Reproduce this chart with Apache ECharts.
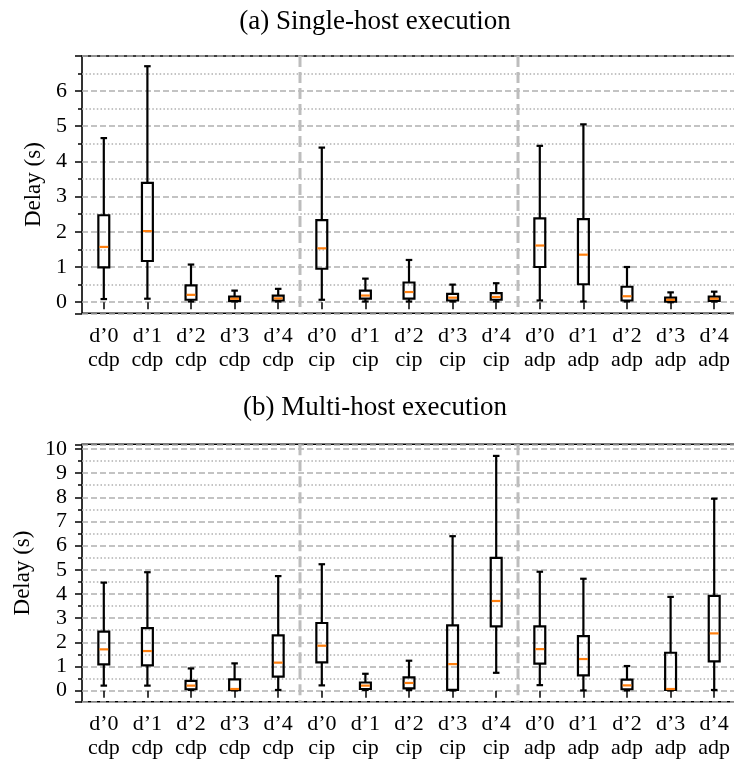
<!DOCTYPE html>
<html>
<head>
<meta charset="utf-8">
<script src="https://cdn.jsdelivr.net/npm/echarts@6/dist/echarts.min.js"></script>
<style>
html,body{margin:0;padding:0;background:#fff;overflow:hidden;}
#chart{width:734px;height:765px;}
</style>
</head>
<body>
<div id="chart"></div>
<script>
// ---- data ----
const delayNames = ['d’0', 'd’1', 'd’2', 'd’3', 'd’4'];
const protocols = ['cdp', 'cip', 'adp'];

// (a) Single-host execution
const singleMin = [0.09, 0.10, 0.02, 0.02, 0.02, 0.07, 0.02, 0.02, 0.02, 0.02, 0.05, 0.02, 0.02, 0.00, 0.02];
const singleQ1  = [0.99, 1.17, 0.07, 0.04, 0.05, 0.95, 0.10, 0.10, 0.05, 0.07, 1.00, 0.51, 0.05, 0.02, 0.04];
const singleMed = [1.57, 2.02, 0.21, 0.10, 0.11, 1.53, 0.19, 0.29, 0.13, 0.15, 1.61, 1.35, 0.17, 0.07, 0.10];
const singleQ3  = [2.47, 3.39, 0.48, 0.16, 0.19, 2.33, 0.33, 0.56, 0.24, 0.26, 2.38, 2.36, 0.44, 0.13, 0.16];
const singleMax = [4.66, 6.70, 1.07, 0.33, 0.38, 4.39, 0.67, 1.20, 0.50, 0.54, 4.44, 5.05, 1.00, 0.28, 0.30];

// (b) Multi-host execution
const multiMin = [0.21, 0.21, 0.03, 0.01, 0.03, 0.22, 0.03, 0.03, 0.01, 0.74, 0.23, 0.01, 0.01, 0.01, 0.03];
const multiQ1  = [1.09, 1.05, 0.06, 0.03, 0.58, 1.17, 0.07, 0.10, 0.03, 2.66, 1.12, 0.63, 0.06, 0.03, 1.21];
const multiMed = [1.71, 1.64, 0.21, 0.07, 1.16, 1.86, 0.21, 0.32, 1.10, 3.71, 1.72, 1.31, 0.22, 0.07, 2.37];
const multiQ3  = [2.44, 2.59, 0.41, 0.47, 2.29, 2.80, 0.34, 0.55, 2.70, 5.49, 2.66, 2.26, 0.46, 1.57, 3.92];
const multiMax = [4.47, 4.90, 0.92, 1.13, 4.74, 5.23, 0.70, 1.24, 6.39, 9.71, 4.92, 4.63, 1.02, 3.88, 7.94];

const titles = ['(a) Single-host execution', '(b) Multi-host execution'];
const yLabel = 'Delay (s)';

// ---- build ----
const categories = [];
protocols.forEach(p => delayNames.forEach(d => categories.push(d + '\n' + p)));
const groupEnds = protocols.slice(0, -1).map((p, k) => (k + 1) * delayNames.length - 1);

function boxData(mn, q1, md, q3, mx) {
  return mn.map((v, i) => [i, mn[i], q1[i], md[i], q3[i], mx[i]]);
}

const FONT = '"Liberation Serif", "Times New Roman", serif';

function renderBox(params, api) {
  const i = api.value(0);
  const pMin = api.coord([i, api.value(1)]);
  const pQ1 = api.coord([i, api.value(2)]);
  const pMed = api.coord([i, api.value(3)]);
  const pQ3 = api.coord([i, api.value(4)]);
  const pMax = api.coord([i, api.value(5)]);
  const band = api.size([1, 0])[0];
  const bw = band * 0.25;
  const cw = band * 0.15;
  const x = pMin[0];
  const ls = { stroke: '#000', lineWidth: 2.2, fill: null };
  return {
    type: 'group',
    children: [
      { type: 'line', shape: { x1: x, y1: pQ1[1], x2: x, y2: pMin[1] }, style: ls },
      { type: 'line', shape: { x1: x, y1: pQ3[1], x2: x, y2: pMax[1] }, style: ls },
      { type: 'line', shape: { x1: x - cw / 2, y1: pMin[1], x2: x + cw / 2, y2: pMin[1] }, style: ls },
      { type: 'line', shape: { x1: x - cw / 2, y1: pMax[1], x2: x + cw / 2, y2: pMax[1] }, style: ls },
      { type: 'rect', shape: { x: x - bw / 2, y: pQ3[1], width: bw, height: pQ1[1] - pQ3[1] }, style: { stroke: '#000', lineWidth: 2.2, fill: 'rgba(0,0,0,0)' } },
      { type: 'line', shape: { x1: x - bw / 2 + 1, y1: pMed[1], x2: x + bw / 2 - 1, y2: pMed[1] }, style: { stroke: '#ff7f0e', lineWidth: 2.2 } }
    ]
  };
}

function renderSep(params, api) {
  const i = api.value(0);
  const a = api.coord([i, 0]);
  const b = api.coord([i + 1, 0]);
  const x = (a[0] + b[0]) / 2;
  const cs = params.coordSys;
  return {
    type: 'line',
    shape: { x1: x, y1: cs.y, x2: x, y2: cs.y + cs.height },
    style: { stroke: '#bdbdbd', lineWidth: 3, lineDash: [11, 5] }
  };
}

const grids = [
  { left: 82, right: -2, top: 56, height: 257.3, outerBoundsMode: 'none', containLabel: false, show: true, borderColor: '#000', borderWidth: 1.6, backgroundColor: 'transparent' },
  { left: 82, right: -2, top: 444.3, height: 257.4, outerBoundsMode: 'none', containLabel: false, show: true, borderColor: '#000', borderWidth: 1.6, backgroundColor: 'transparent' }
];

function xAxisFor(gi) {
  return {
    type: 'category', gridIndex: gi, data: categories, boundaryGap: true,
    axisLine: { show: false },
    axisTick: { show: true, alignWithLabel: true, length: 7, lineStyle: { color: '#000', width: 1.5 } },
    axisLabel: { interval: 0, margin: 11, color: '#000', fontFamily: FONT, fontSize: 22, lineHeight: 24, hideOverlap: false },
    splitLine: { show: false }
  };
}

function yAxisFor(gi, mn, mx, split, gap) {
  return {
    type: 'value', gridIndex: gi, min: mn, max: mx, splitNumber: split, minInterval: 1, maxInterval: 1,
    name: yLabel, nameLocation: 'middle', nameGap: gap,
    nameTextStyle: { color: '#000', fontFamily: FONT, fontSize: 23 },
    axisLine: { show: false },
    axisTick: { show: true, length: 7, lineStyle: { color: '#000', width: 1.5 } },
    minorTick: { show: true, splitNumber: 2, length: 4, lineStyle: { color: '#000', width: 1.5 } },
    axisLabel: { show: true, margin: 15, color: '#000', fontFamily: FONT, fontSize: 22, showMinLabel: false, showMaxLabel: false },
    splitLine: { show: true, lineStyle: { color: '#b0b0b0', width: 1.5, type: [6, 3] } },
    minorSplitLine: { show: true, lineStyle: { color: '#b0b0b0', width: 1.5, type: [1.5, 2.2] } }
  };
}

const chart = echarts.init(document.getElementById('chart'), null, { renderer: 'canvas', width: 734, height: 765 });
chart.setOption({
  animation: false,
  backgroundColor: '#fff',
  grid: grids,
  xAxis: [xAxisFor(0), xAxisFor(1)],
  yAxis: [yAxisFor(0, -0.314, 6.99, 7, 35), yAxisFor(1, -0.455, 10.19, 10, 47)],
  graphic: [
    { type: 'text', x: 375, y: 22, style: { text: titles[0], fill: '#000', font: '27px ' + FONT, align: 'center', verticalAlign: 'middle' } },
    { type: 'text', x: 375, y: 408, style: { text: titles[1], fill: '#000', font: '27px ' + FONT, align: 'center', verticalAlign: 'middle' } }
  ],
  series: [
    { type: 'custom', xAxisIndex: 0, yAxisIndex: 0, renderItem: renderSep, data: groupEnds.map(g => [g]), silent: true, z: 1 },
    { type: 'custom', xAxisIndex: 1, yAxisIndex: 1, renderItem: renderSep, data: groupEnds.map(g => [g]), silent: true, z: 1 },
    { type: 'custom', xAxisIndex: 0, yAxisIndex: 0, renderItem: renderBox, encode: { x: 0, y: [1, 2, 3, 4, 5] }, data: boxData(singleMin, singleQ1, singleMed, singleQ3, singleMax), z: 3 },
    { type: 'custom', xAxisIndex: 1, yAxisIndex: 1, renderItem: renderBox, encode: { x: 0, y: [1, 2, 3, 4, 5] }, data: boxData(multiMin, multiQ1, multiMed, multiQ3, multiMax), z: 3 }
  ]
});
</script>
</body>
</html>
